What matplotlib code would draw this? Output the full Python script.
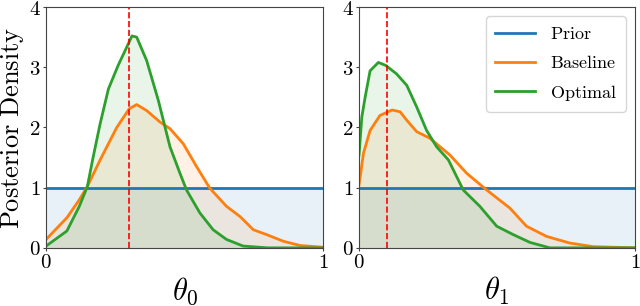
import numpy as np
from matplotlib import pyplot as plt

plt.rcParams['mathtext.fontset'] = 'cm'
plt.rcParams['font.family'] = 'serif'
plt.rcParams['font.serif'] = ['DejaVu Serif']

# theta_0 panel
x0_opt = [0.0, 0.075, 0.12, 0.149, 0.17, 0.195, 0.225, 0.26, 0.31, 0.327, 0.363, 0.405,
          0.447, 0.483, 0.507, 0.555, 0.603, 0.651, 0.711, 0.8, 1.0]
y0_opt = [0.03, 0.28, 0.69, 1.02, 1.51, 2.06, 2.64, 3.03, 3.52, 3.5, 3.11, 2.45,
          1.68, 1.24, 0.96, 0.58, 0.30, 0.14, 0.03, 0.0, 0.0]
x0_base = [0.0, 0.075, 0.12, 0.149, 0.195, 0.255, 0.3, 0.327, 0.363, 0.411, 0.447, 0.495,
           0.543, 0.591, 0.651, 0.7, 0.748, 0.796, 0.856, 0.916, 1.0]
y0_base = [0.14, 0.5, 0.8, 1.02, 1.46, 2.0, 2.31, 2.38, 2.28, 2.09, 1.98, 1.73,
           1.35, 0.99, 0.69, 0.52, 0.30, 0.22, 0.11, 0.04, 0.01]

# theta_1 panel
x1_opt = [0.0, 0.01, 0.022, 0.04, 0.07, 0.097, 0.136, 0.173, 0.209, 0.245, 0.281, 0.324,
          0.378, 0.438, 0.499, 0.559, 0.62, 0.692, 1.0]
y1_opt = [1.54, 2.17, 2.5, 2.94, 3.08, 3.03, 2.89, 2.70, 2.34, 1.95, 1.68, 1.46,
          0.96, 0.69, 0.36, 0.22, 0.09, 0.0, 0.0]
x1_base = [0.0, 0.016, 0.04, 0.076, 0.12, 0.149, 0.173, 0.209, 0.257, 0.33, 0.39, 0.463,
           0.547, 0.607, 0.68, 0.764, 0.849, 1.0]
y1_base = [1.05, 1.57, 1.95, 2.2, 2.29, 2.26, 2.12, 1.93, 1.82, 1.54, 1.24, 0.96,
           0.66, 0.36, 0.19, 0.08, 0.02, 0.0]

true_theta = [0.3, 0.1]
prior_density = 1.0

panels = [(x0_base, y0_base, x0_opt, y0_opt, r'$\theta_0$'),
          (x1_base, y1_base, x1_opt, y1_opt, r'$\theta_1$')]

fig = plt.figure(figsize=(6.4, 3.06), dpi=100)
axes = [fig.add_axes([0.072, 0.19, 0.433, 0.787]),
        fig.add_axes([0.561, 0.19, 0.431, 0.787])]

for i, (ax, (xb, yb, xo, yo, lab)) in enumerate(zip(axes, panels)):
    ax.fill_between([0, 1], 0, prior_density, color='tab:blue', alpha=0.1, lw=0)
    ax.fill_between(xb, 0, yb, color='tab:orange', alpha=0.1, lw=0)
    ax.fill_between(xo, 0, yo, color='tab:green', alpha=0.1, lw=0)
    ax.plot([0, 1], [prior_density, prior_density], color='tab:blue', lw=2, label=r'$\mathrm{Prior}$')
    ax.plot(xb, yb, color='tab:orange', lw=2, label=r'$\mathrm{Baseline}$')
    ax.plot(xo, yo, color='tab:green', lw=2, label=r'$\mathrm{Optimal}$')
    ax.axvline(true_theta[i], color='red', ls='--', lw=1.2)
    ax.set_xlim(0, 1)
    ax.set_ylim(0, 4)
    ax.set_xticks([0, 1])
    ax.set_xticklabels([r'$0$', r'$1$'])
    ax.set_yticks([0, 1, 2, 3, 4])
    ax.set_yticklabels([r'$%d$' % v for v in range(5)])
    ax.tick_params(labelsize=15, length=2, pad=2, color='#444444')
    ax.set_xlabel(lab, fontsize=22, labelpad=2)
    for s in ax.spines.values():
        s.set_color('#444444')

axes[0].set_ylabel(r'$\mathrm{Posterior\ Density}$', fontsize=19, labelpad=2)
axes[1].legend(loc='upper right', fontsize=13, handlelength=2.2, borderpad=0.5,
               labelspacing=0.6, handletextpad=0.85, borderaxespad=0.5)

fig.savefig('out.png', dpi=100)
